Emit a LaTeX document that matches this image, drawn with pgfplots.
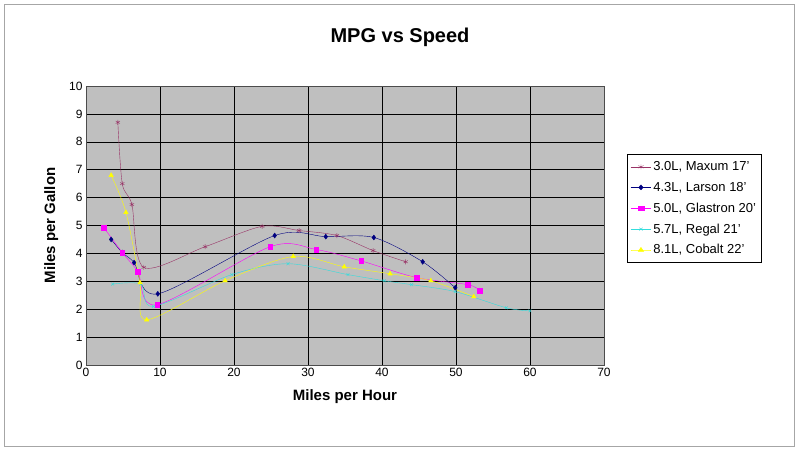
\documentclass[border=0pt]{standalone}
\usepackage{pgfplots}
\pgfplotsset{compat=1.18}
\usepackage{fontspec}
\setmainfont{Liberation Sans}
\definecolor{maxum}{HTML}{993366}
\definecolor{larson}{HTML}{000080}
\definecolor{glas}{HTML}{FF00FF}
\definecolor{regal}{HTML}{33DDDD}
\definecolor{cobalt}{HTML}{FFFF00}
\begin{document}
\begin{tikzpicture}[x=1pt,y=1pt]
\fill[white] (0,0) rectangle (798,450);
\draw[gray!70] (4,4) rectangle (794,446);
\node[font=\bfseries\fontsize{20}{22}\selectfont] at (400,413) {MPG vs Speed};
\begin{axis}[at={(86pt,85pt)}, anchor=south west, scale only axis,
  width=518pt, height=279pt,
  xmin=0, xmax=70, ymin=0, ymax=10,
  xtick={0,10,...,70}, ytick={0,1,...,10},
  grid=major, major grid style={black, thin},
  axis background/.style={fill=black!25},
  axis line style={gray!60!black},
  tick style={draw=none},
  /pgf/number format/assume math mode=true,
  ticklabel style={font=\fontsize{12}{14}\selectfont},
  xlabel={\textbf{Miles per Hour}}, ylabel={\textbf{Miles per Gallon}},
  label style={font=\fontsize{15}{17}\selectfont},
  xlabel style={yshift=-6pt}, ylabel style={yshift=4pt},
  legend style={anchor=north west, at={(1.045,0.755)},
    font=\fontsize{13}{15}\selectfont, draw=black, fill=white,
    row sep=6pt, inner xsep=3pt, inner ysep=5pt},
  legend image post style={xscale=1.2},
  legend cell align=left,
  every axis plot/.append style={smooth, tension=0.5, thin},
]
\addplot[color=maxum, mark=asterisk, mark size=2.5pt] coordinates {
(4.3,8.7)(4.9,6.5)(6.2,5.75)(7.8,3.5)(16.1,4.24)(23.8,4.97)(28.8,4.82)(33.9,4.64)(38.8,4.1)(43.2,3.7)};
\addlegendentry{3.0L, Maxum 17'}
\addplot[color=larson, mark=diamond*, mark size=2.5pt] coordinates {
(3.4,4.5)(4.9,4.03)(6.5,3.67)(9.7,2.55)(25.5,4.64)(32.4,4.6)(38.9,4.57)(45.5,3.7)(49.9,2.77)};
\addlegendentry{4.3L, Larson 18'}
\addplot[color=glas, mark=square*, mark size=2.3pt] coordinates {
(2.4,4.93)(4.9,4.03)(7.0,3.35)(9.6,2.16)(24.9,4.24)(31.1,4.14)(37.2,3.73)(44.7,3.13)(51.6,2.88)(53.2,2.67)};
\addlegendentry{5.0L, Glastron 20'}
\addplot[color=regal, mark=x, mark size=2pt] coordinates {
(3.6,2.9)(7.4,2.9)(9.1,2.1)(19.7,3.24)(27.3,3.63)(35.4,3.24)(40.3,3.02)(44.0,2.88)(49.9,2.63)(56.8,2.05)(60,1.94)};
\addlegendentry{5.7L, Regal 21'}
\addplot[color=cobalt, mark=triangle*, mark size=2.6pt] coordinates {
(3.4,6.8)(5.4,5.47)(7.3,2.95)(8.2,1.62)(18.8,3.02)(28.0,3.89)(34.9,3.52)(41.1,3.27)(46.6,3.02)(52.4,2.45)};
\addlegendentry{8.1L, Cobalt 22'}
\end{axis}
\end{tikzpicture}
\end{document}
